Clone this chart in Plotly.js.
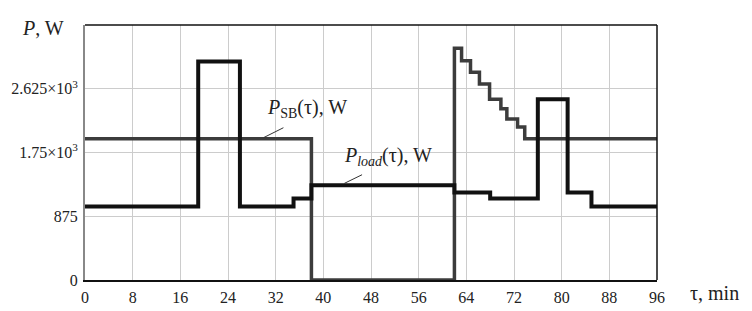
<!DOCTYPE html>
<html>
<head>
<meta charset="utf-8">
<script src="https://cdn.plot.ly/plotly-3.0.1.min.js"></script>
<style>html,body{margin:0;padding:0;background:#fff}#chart{width:752px;height:311px}</style>
</head>
<body>
<div id="chart"></div>
<script>
// Time, min
var tauSB = [0, 38, 62, 63.2, 64.7, 66.2, 67.9, 69.8, 70.8, 72.6, 73.8, 96];
// P_SB, W
var pSB = [1940, 0, 3180, 3010, 2850, 2690, 2480, 2350, 2210, 2100, 1940, 1940];
// Time, min
var tauLoad = [0, 19, 26, 35, 38, 62, 68, 76, 81, 85, 96];
// P_load, W
var pLoad = [1010, 3000, 1010, 1120, 1300, 1200, 1120, 2480, 1200, 1010, 1010];

var xTicks = [0, 8, 16, 24, 32, 40, 48, 56, 64, 72, 80, 88, 96];
var yTickVals = [0, 875, 1750, 2625];
var yTickText = ["0", "875", "1.75×10<sup>3</sup>", "2.625×10<sup>3</sup>"];

var serif = "Liberation Serif";

var traces = [
  {x: tauSB, y: pSB, type: "scatter", mode: "lines", line: {shape: "hv", color: "#3c3c3c", width: 3.5}, hoverinfo: "skip"},
  {x: tauLoad, y: pLoad, type: "scatter", mode: "lines", line: {shape: "hv", color: "#111111", width: 4}, hoverinfo: "skip"}
];

var layout = {
  width: 752, height: 311,
  margin: {l: 85, r: 95, t: 25, b: 31},
  paper_bgcolor: "#fff", plot_bgcolor: "#fff",
  showlegend: false,
  font: {family: serif, size: 16, color: "#222"},
  xaxis: {
    range: [0, 96], tickvals: xTicks, ticks: "", showgrid: true, gridcolor: "#cccccc", gridwidth: 1,
    zeroline: false, showline: true, linecolor: "#111", linewidth: 2, ticklabelstandoff: 2,
    tickfont: {family: serif, size: 16, color: "#222"}
  },
  yaxis: {
    range: [0, 3500], tickvals: yTickVals, ticktext: yTickText, ticks: "", showgrid: true, gridcolor: "#cccccc", gridwidth: 1,
    zeroline: false, showline: true, linecolor: "#888", linewidth: 2, ticklabelstandoff: 2,
    tickfont: {family: serif, size: 16, color: "#222"}
  },
  shapes: [
    {type: "line", xref: "paper", yref: "paper", x0: 0, x1: 1, y0: 1, y1: 1, line: {color: "#111", width: 1.5}},
    {type: "line", xref: "paper", yref: "paper", x0: 1, x1: 1, y0: 0, y1: 1, line: {color: "#111", width: 1.5}},
    {type: "line", xref: "x", yref: "y", x0: 30.0, y0: 1955, x1: 33.3, y1: 2090, line: {color: "#333", width: 1}},
    {type: "line", xref: "x", yref: "y", x0: 43.5, y0: 1325, x1: 46.5, y1: 1445, line: {color: "#333", width: 1}}
  ],
  annotations: [
    {xref: "x", yref: "y", x: 37.2, y: 2360, text: "<i>P</i><sub>SB</sub>(τ), W", showarrow: false, font: {family: serif, size: 20, color: "#222"}},
    {xref: "x", yref: "y", x: 50.9, y: 1700, text: "<i>P</i><sub><i>load</i></sub>(τ), W", showarrow: false, font: {family: serif, size: 20, color: "#222"}},
    {xref: "paper", yref: "paper", x: -0.114, y: 0.99, xanchor: "left", yanchor: "middle", text: "<i>P</i>, W", showarrow: false, font: {family: serif, size: 20, color: "#222"}},
    {xref: "paper", yref: "paper", x: 1.055, y: -0.05, xanchor: "left", yanchor: "middle", text: "τ, min", showarrow: false, font: {family: serif, size: 20, color: "#222"}}
  ]
};

Plotly.newPlot("chart", traces, layout, {staticPlot: true, displayModeBar: false});
</script>
</body>
</html>
